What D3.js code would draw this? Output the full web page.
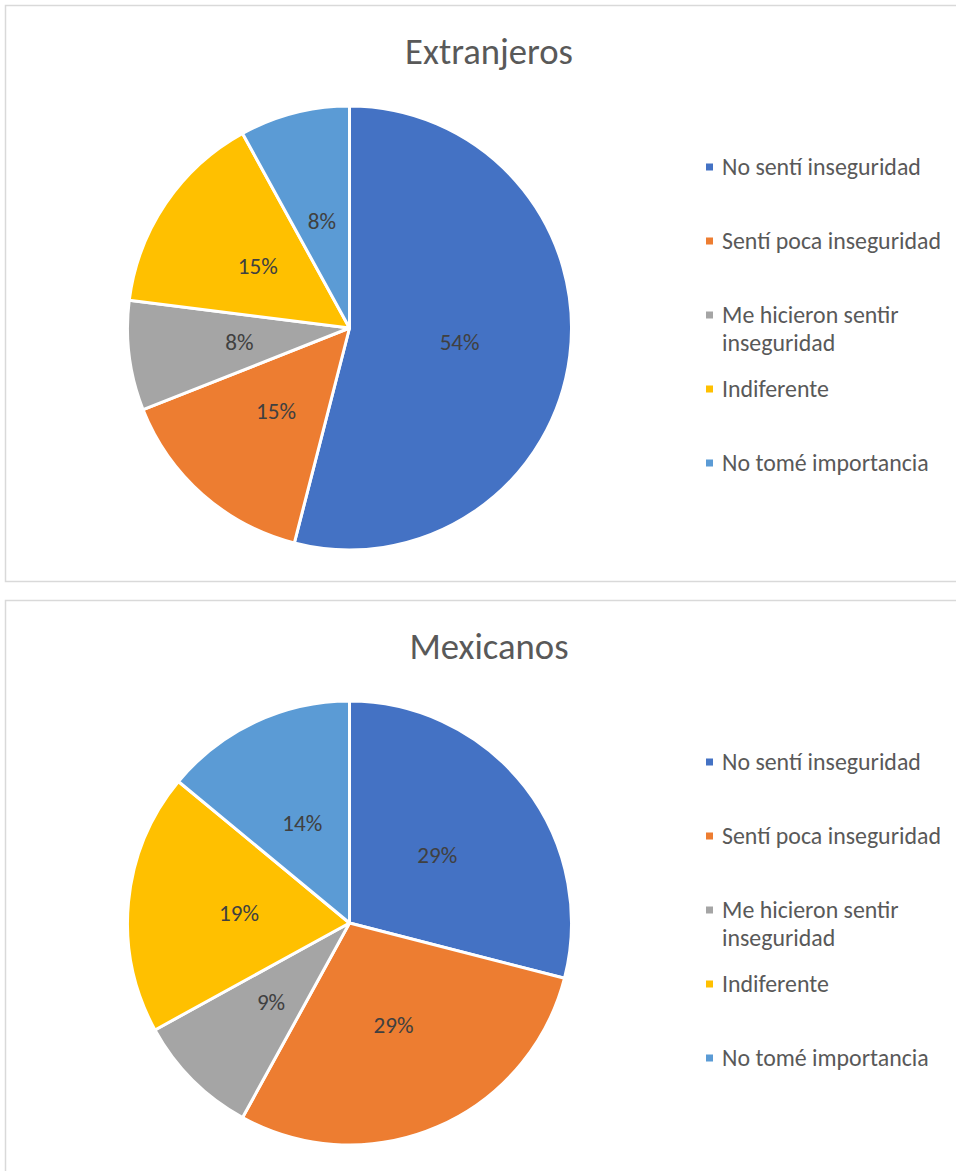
<!DOCTYPE html>
<html><head><meta charset="utf-8">
<script src="https://cdn.jsdelivr.net/npm/d3@7/dist/d3.min.js"></script>
<style>
html,body{margin:0;padding:0;background:#fff;}
svg{display:block;}
text{font-family:Carlito,"Open Sans",sans-serif;}
</style></head>
<body>
<script>
const categories = ["No sentí inseguridad","Sentí poca inseguridad","Me hicieron sentir inseguridad","Indiferente","No tomé importancia"];
const extranjerosValues = [54,15,8,15,8];
const mexicanosValues = [29,29,9,19,14];
const chartTitles = ["Extranjeros","Mexicanos"];
const colors = ["#4472C4","#ED7D31","#A5A5A5","#FFC000","#5B9BD5"];

const W = 956, H = 1171;
const svg = d3.select("body").append("svg").attr("width", W).attr("height", H);

function fitSize(sample, target, base) {
  const t = svg.append("text").attr("font-size", base).text(sample);
  const w = t.node().getComputedTextLength();
  t.remove();
  return base * target / w;
}
const titleSize = fitSize("Extranjeros", 168, 30);
const legendSize = fitSize("No sentí inseguridad", 199, 20);
const labelSize = fitSize("54%", 40, 20);

const color = d3.scaleOrdinal().domain(categories).range(colors);
const pie = d3.pie().sort(null).value(d => d.v);
const R = 222;
const arc = d3.arc().innerRadius(0).outerRadius(R);
const legendY = d3.scalePoint().domain(categories).range([167, 463]);

function drawChart(top, title, values) {
  const g = svg.append("g").attr("transform", `translate(0,${top})`);
  g.append("rect").attr("x", 5.5).attr("y", 0.5).attr("width", 1000).attr("height", 576)
    .attr("fill", "#fff").attr("stroke", "#D9D9D9").attr("stroke-width", 1.5);
  g.append("text").attr("x", 489).attr("y", 59).attr("text-anchor", "middle")
    .attr("font-size", titleSize).attr("fill", "#595959").text(title);
  const data = pie(categories.map((c, i) => ({c, v: values[i]})));
  const pg = g.append("g").attr("transform", `translate(349.5,${323})`);
  pg.selectAll("path").data(data).join("path")
    .attr("d", arc).attr("fill", d => color(d.data.c))
    .attr("stroke", "#fff").attr("stroke-width", 3).attr("stroke-linejoin", "round");
  pg.selectAll("text").data(data).join("text")
    .attr("transform", d => { const [x, y] = arc.centroid(d); return `translate(${x},${y})`; })
    .attr("text-anchor", "middle").attr("dy", "0.35em")
    .attr("font-size", labelSize).attr("fill", "#404040")
    .text(d => d.data.v + "%");
  const lg = g.append("g");
  categories.forEach(c => {
    const y = legendY(c) - 5;
    lg.append("rect").attr("x", 706).attr("y", y - 3.5).attr("width", 7).attr("height", 7).attr("fill", color(c));
    const t = lg.append("text").attr("x", 722).attr("y", y).attr("dy", "0.35em")
      .attr("font-size", legendSize).attr("fill", "#595959").text(c);
    if (t.node().getComputedTextLength() > 228) {
      const words = c.split(" ");
      t.text(null);
      let line = [], lines = [];
      const probe = lg.append("text").attr("font-size", legendSize);
      words.forEach(w => {
        const test = line.concat(w).join(" ");
        probe.text(test);
        if (probe.node().getComputedTextLength() > 228 && line.length) { lines.push(line.join(" ")); line = [w]; }
        else line.push(w);
      });
      lines.push(line.join(" "));
      probe.remove();
      lines.forEach((l, i) => t.append("tspan").attr("x", 722).attr("y", y + i * 28).attr("dy", "0.35em").text(l));
    }
  });
}

drawChart(5, chartTitles[0], extranjerosValues);
drawChart(600, chartTitles[1], mexicanosValues);
</script>
</body></html>
